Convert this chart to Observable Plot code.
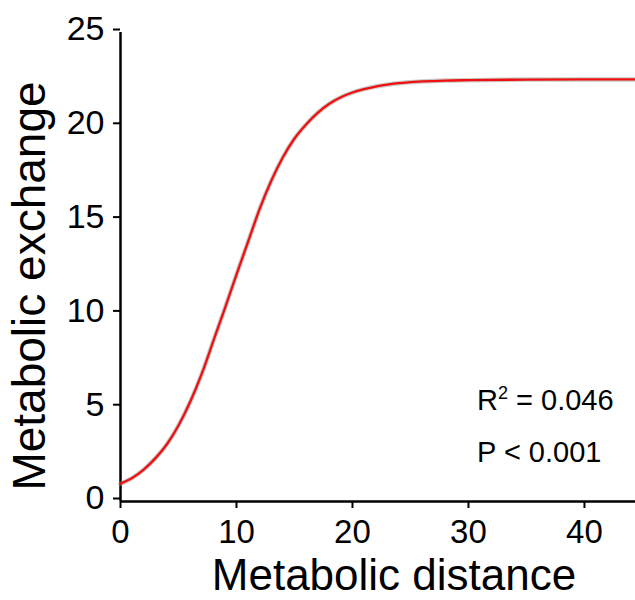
<!DOCTYPE html>
<html>
<head>
<meta charset="utf-8">
<script src="https://cdn.jsdelivr.net/npm/d3@7"></script>
<script src="https://cdn.jsdelivr.net/npm/@observablehq/plot@0.6"></script>
<style>
  html, body { margin: 0; padding: 0; background: #fff; }
  #chart { width: 635px; height: 600px; }
</style>
</head>
<body>
<div id="chart"></div>
<script>
// Fitted curve
const distance = [0, 1, 2, 3, 4, 5, 6, 7, 8, 9, 10, 11, 12, 13, 14, 15, 16, 17, 18, 19, 20, 21, 22, 23, 24, 25, 26, 28, 30, 35, 40, 45];
const exchange = [0.95, 1.25, 1.7, 2.3, 3.05, 4.05, 5.3, 6.8, 8.55, 10.3, 12.1, 13.85, 15.6, 17.1, 18.35, 19.35, 20.1, 20.72, 21.2, 21.55, 21.8, 21.98, 22.12, 22.22, 22.3, 22.35, 22.39, 22.44, 22.46, 22.49, 22.5, 22.5];
const xTicks = [0, 10, 20, 30, 40];
const yTicks = [0, 5, 10, 15, 20, 25];
const xTitle = "Metabolic distance";
const yTitle = "Metabolic exchange";
const stats = ["R² = 0.046", "P < 0.001"];

const data = distance.map((d, i) => ({x: d, y: exchange[i]}));
const font = "'Liberation Sans', Arial, Helvetica, sans-serif";

const W = 635, H = 600, mL = 120, mT = 32, mB = 99, mR = 0;

const plot = Plot.plot({
  width: W,
  height: H,
  marginLeft: mL,
  marginTop: mT,
  marginBottom: mB,
  marginRight: mR,
  style: {fontFamily: font, background: "#fff", color: "#000", overflow: "visible"},
  x: {domain: [0, 44.4], ticks: xTicks},
  y: {domain: [0, 25], ticks: yTicks},
  marks: [
    Plot.axisX({ticks: xTicks, tickSize: 7, tickPadding: 11, fontSize: 33, label: null, strokeWidth: 2}),
    Plot.axisY({ticks: yTicks, tickSize: 7, tickPadding: 9, fontSize: 34, label: null, strokeWidth: 2, dy: -3}),
    Plot.ruleX([0], {stroke: "#000", strokeWidth: 2.5}),
    Plot.ruleY([0], {stroke: "#000", strokeWidth: 2.5}),
    Plot.line(data, {x: "x", y: "y", curve: "monotone-x", stroke: "#888", strokeOpacity: 0.45, strokeWidth: 4.5}),
    Plot.line(data, {x: "x", y: "y", curve: "monotone-x", stroke: "#f01010", strokeWidth: 2.3})
  ]
});

document.getElementById("chart").appendChild(plot);

const svg = d3.select(plot);
svg.append("text")
  .attr("x", 394).attr("y", 590)
  .attr("text-anchor", "middle")
  .attr("font-family", font).attr("font-size", 44)
  .attr("fill", "#000")
  .text(xTitle);

svg.append("text")
  .attr("transform", "translate(45,286) rotate(-90)")
  .attr("text-anchor", "middle")
  .attr("font-family", font).attr("font-size", 46)
  .attr("fill", "#000")
  .text(yTitle);

const r2 = svg.append("text")
  .attr("x", 477).attr("y", 410)
  .attr("text-anchor", "start")
  .attr("font-family", font).attr("font-size", 29)
  .attr("fill", "#000");
r2.append("tspan").text("R");
r2.append("tspan").attr("font-size", 18).attr("dy", -11).text("2");
r2.append("tspan").attr("dy", 11).text(" = 0.046");

svg.append("text")
  .attr("x", 477).attr("y", 462)
  .attr("text-anchor", "start")
  .attr("font-family", font).attr("font-size", 29)
  .attr("fill", "#000")
  .text(stats[1]);
</script>
</body>
</html>
